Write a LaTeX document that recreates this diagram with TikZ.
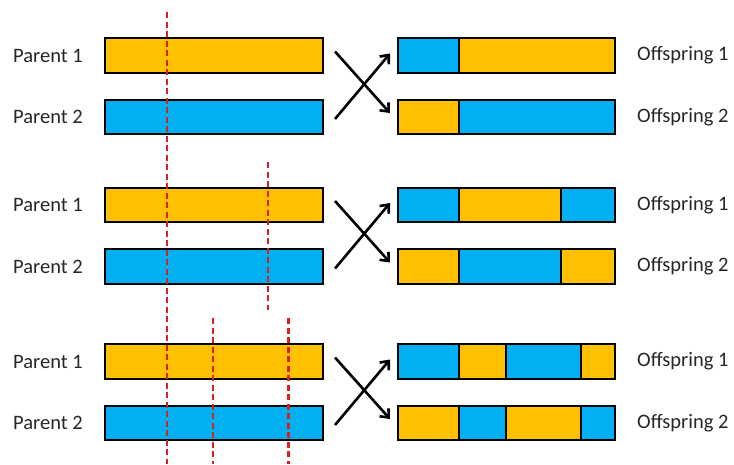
\documentclass[tikz,border=0pt]{standalone}
\usepackage{fontspec}
\setmainfont{Carlito}
\usetikzlibrary{arrows.meta}
\definecolor{gold}{HTML}{FFC000}
\definecolor{sky}{HTML}{00B0F0}
\definecolor{cutred}{HTML}{D92020}
\begin{document}
\begin{tikzpicture}[x=1pt,y=-1pt,
  seg/.style={draw=black,line width=2pt,minimum height=34.5pt,inner sep=0pt,outer sep=0pt,anchor=west},
  lbl/.style={font=\fontsize{20.5}{24}\selectfont,anchor=west,inner sep=0pt,text=black!85},
  cut/.style={draw=cutred,line width=2.2pt,dash pattern=on 6pt off 3.5pt},
  cross/.style={draw=black,line width=2.6pt,-{Straight Barb[length=7pt,width=12pt,line width=2.6pt]}}]
\useasboundingbox (0,0) rectangle (734,464);
% group centres: c1, c2
\foreach \g/\ca/\cb in {1/55.5/117, 2/205/266.5, 3/361.5/423}{
  \node[lbl] (pl\g a) at (13,\ca) {Parent 1};
  \node[lbl] (pl\g b) at (13,\cb) {Parent 2};
  \node[seg,fill=gold,minimum width=217.5pt] (p\g a) at (105,\ca) {};
  \node[seg,fill=sky,minimum width=217.5pt] (p\g b) at (105,\cb) {};
  \node[lbl] (ol\g a) at (637,\ca) {Offspring 1};
  \node[lbl] (ol\g b) at (637,\cb) {Offspring 2};
  \coordinate (s\g a) at (335,\ca-4);
  \coordinate (e\g a) at (390,\cb-4);
  \coordinate (s\g b) at (335,\cb+2);
  \coordinate (e\g b) at (390,\ca-2);
  \draw[cross] (s\g a) -- (e\g a);
  \draw[cross] (s\g b) -- (e\g b);
}
% offspring group 1
\node[seg,fill=sky,minimum width=61.5pt] (o1a1) at (397.5,55.5) {};
\node[seg,fill=gold,minimum width=156pt] (o1a2) at (o1a1.east) {};
\node[seg,fill=gold,minimum width=61.5pt] (o1b1) at (397.5,117) {};
\node[seg,fill=sky,minimum width=156pt] (o1b2) at (o1b1.east) {};
% offspring group 2
\node[seg,fill=sky,minimum width=61.5pt] (o2a1) at (397.5,205) {};
\node[seg,fill=gold,minimum width=101.5pt] (o2a2) at (o2a1.east) {};
\node[seg,fill=sky,minimum width=54.5pt] (o2a3) at (o2a2.east) {};
\node[seg,fill=gold,minimum width=61.5pt] (o2b1) at (397.5,266.5) {};
\node[seg,fill=sky,minimum width=101.5pt] (o2b2) at (o2b1.east) {};
\node[seg,fill=gold,minimum width=54.5pt] (o2b3) at (o2b2.east) {};
% offspring group 3
\node[seg,fill=sky,minimum width=61.5pt] (o3a1) at (397.5,361.5) {};
\node[seg,fill=gold,minimum width=47pt] (o3a2) at (o3a1.east) {};
\node[seg,fill=sky,minimum width=75pt] (o3a3) at (o3a2.east) {};
\node[seg,fill=gold,minimum width=34pt] (o3a4) at (o3a3.east) {};
\node[seg,fill=gold,minimum width=61.5pt] (o3b1) at (397.5,423) {};
\node[seg,fill=sky,minimum width=47pt] (o3b2) at (o3b1.east) {};
\node[seg,fill=gold,minimum width=75pt] (o3b3) at (o3b2.east) {};
\node[seg,fill=sky,minimum width=34pt] (o3b4) at (o3b3.east) {};
% cut lines
\coordinate (k1t) at (166.7,12);  \coordinate (k1b) at (166.7,464);
\coordinate (k2t) at (268.3,162); \coordinate (k2b) at (268.3,310);
\coordinate (k3t) at (213.3,318); \coordinate (k3b) at (213.3,464);
\coordinate (k4t) at (288.5,318); \coordinate (k4b) at (288.5,464);
\draw[cut] (k1t) -- (k1b);
\draw[cut] (k2t) -- (k2b);
\draw[cut] (k3t) -- (k3b);
\draw[cut] (k4t) -- (k4b);
\end{tikzpicture}
\end{document}
